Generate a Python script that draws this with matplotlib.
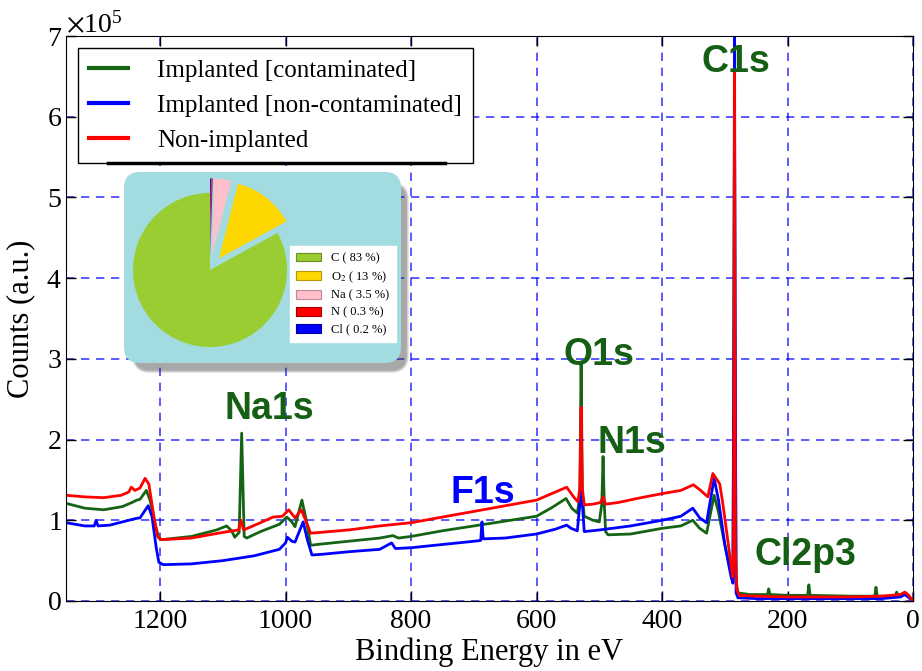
import matplotlib
matplotlib.use("Agg")
import matplotlib.pyplot as plt
from matplotlib.patches import FancyBboxPatch, Patch
from matplotlib.lines import Line2D
from matplotlib.ticker import ScalarFormatter
import numpy as np

plt.rcParams['font.family'] = 'serif'
plt.rcParams['font.serif'] = ['Liberation Serif', 'DejaVu Serif']
plt.rcParams['mathtext.fontset'] = 'stix'

SCALE = 1e5  # counts are listed in units of 1e5

# survey spectra, binding energy (eV) vs counts / 1e5
be_contam = [1350, 1320, 1290, 1260, 1245, 1237, 1232, 1222, 1216, 1208, 1202, 1198,
             1150, 1110, 1094, 1086, 1081, 1074, 1070, 1066, 1062, 1040, 1010, 998,
             990, 985, 974, 967, 960, 950, 900, 850, 829, 820, 800, 750, 700, 650,
             600, 575, 553, 544, 535, 531, 529, 527, 524, 510, 500, 496, 494, 492,
             490, 486, 450, 400, 370, 351, 340, 329, 317, 310, 300, 290, 287, 285.5,
             284.5, 283.5, 282, 279, 260, 232, 230, 228, 200, 168, 166, 164, 100,
             61, 59, 57, 28, 26, 24, 13, 0]
cts_contam = [1.21, 1.15, 1.13, 1.17, 1.22, 1.25, 1.26, 1.37, 1.25, 0.95, 0.78, 0.76,
              0.80, 0.88, 0.93, 0.87, 0.79, 0.85, 2.08, 0.80, 0.78, 0.86, 0.95, 1.04,
              0.98, 0.92, 1.25, 1.00, 0.69, 0.70, 0.74, 0.78, 0.81, 0.78, 0.80, 0.87,
              0.93, 0.99, 1.05, 1.16, 1.27, 1.15, 1.09, 1.30, 2.96, 1.30, 1.05, 1.00,
              0.98, 1.20, 1.79, 1.20, 0.86, 0.82, 0.83, 0.90, 0.93, 1.00, 0.90, 0.84,
              1.31, 1.10, 0.70, 0.35, 0.28, 3.00, 6.20, 3.00, 0.25, 0.10, 0.08, 0.08,
              0.15, 0.08, 0.07, 0.07, 0.20, 0.07, 0.06, 0.06, 0.17, 0.06, 0.06, 0.11,
              0.07, 0.10, 0.01]

be_clean = [1350, 1320, 1305, 1302, 1299, 1280, 1260, 1240, 1232, 1219, 1213, 1206,
            1202, 1195, 1150, 1100, 1050, 1010, 1000, 997, 990, 985, 972, 965, 958,
            940, 900, 850, 831, 825, 800, 750, 700, 689, 687, 685, 650, 600, 570,
            552, 545, 535, 531, 529, 527, 524, 500, 450, 400, 370, 351, 340, 329,
            317, 310, 300, 290, 287, 285.5, 284.5, 283.5, 282, 279, 250, 150, 50,
            20, 13, 8, 0]
cts_clean = [0.97, 0.93, 0.93, 1.00, 0.93, 0.94, 0.98, 1.02, 1.03, 1.18, 1.05, 0.65,
             0.48, 0.45, 0.46, 0.50, 0.56, 0.64, 0.72, 0.79, 0.74, 0.73, 0.98, 0.75,
             0.57, 0.58, 0.61, 0.64, 0.72, 0.65, 0.66, 0.70, 0.74, 0.75, 0.98, 0.77,
             0.78, 0.83, 0.89, 0.94, 0.90, 0.87, 1.20, 1.55, 1.20, 0.86, 0.88, 0.93,
             1.00, 1.05, 1.15, 1.03, 0.97, 1.52, 1.25, 0.70, 0.30, 0.22, 3.50, 7.10,
             3.50, 0.10, 0.04, 0.03, 0.03, 0.03, 0.05, 0.08, 0.05, 0.00]

be_ref = [1350, 1320, 1290, 1262, 1250, 1246, 1240, 1232, 1224, 1218, 1210, 1204,
          1198, 1150, 1100, 1075, 1071, 1067, 1040, 1020, 1005, 995, 985, 975, 968,
          960, 900, 850, 800, 750, 700, 650, 600, 570, 552, 540, 534, 531, 529, 527,
          524, 510, 498, 494, 490, 470, 440, 400, 370, 350, 340, 327, 319, 308, 303,
          290, 287.5, 286, 285, 284.5, 284, 283, 281, 277, 250, 200, 150, 100, 50,
          20, 13, 8, 0]
cts_ref = [1.31, 1.29, 1.28, 1.31, 1.35, 1.41, 1.37, 1.40, 1.52, 1.45, 1.05, 0.80,
           0.76, 0.78, 0.85, 0.88, 1.00, 0.88, 0.97, 1.04, 1.05, 1.13, 1.03, 1.13,
           1.00, 0.84, 0.88, 0.93, 0.97, 1.04, 1.11, 1.18, 1.25, 1.35, 1.41, 1.28,
           1.23, 1.40, 2.40, 1.40, 1.19, 1.20, 1.22, 1.29, 1.20, 1.22, 1.27, 1.33,
           1.37, 1.44, 1.38, 1.29, 1.58, 1.45, 1.20, 0.45, 0.30, 0.60, 3.50, 6.55,
           4.00, 0.60, 0.15, 0.07, 0.06, 0.05, 0.05, 0.05, 0.06, 0.08, 0.11, 0.08,
           0.00]

# peak labels: text, energy, counts / 1e5 (baseline), colour
peak_names = ['C1s', 'O1s', 'N1s', 'Na1s', 'F1s', 'Cl2p3']
peak_be = [282, 501, 448, 1026, 685, 172]
peak_y = [6.56, 2.92, 1.83, 2.26, 1.21, 0.45]
peak_col = ['#145f14', '#145f14', '#145f14', '#145f14', 'blue', '#145f14']

# surface composition for the inset
elements = ['C ( 83 %)', 'O$_2$ ( 13 %)', 'Na ( 3.5 %)', 'N ( 0.3 %)', 'Cl ( 0.2 %)']
fractions = [83, 13, 3.5, 0.3, 0.2]
pie_cols = ['#9acd32', '#ffd700', '#ffc0cb', '#ff0000', '#0000ff']
pie_edges = ['#6b8e23', '#b8960c', '#c08890', '#a00000', '#0000a0']

W, H = 922, 671
fig = plt.figure(figsize=(W / 100, H / 100), dpi=100)
ax = fig.add_axes([66 / W, 1 - 601 / H, 847 / W, 565 / H])

ax.plot(be_contam, np.array(cts_contam) * SCALE, color='#146414', lw=2,
        label='Implanted [contaminated]')
ax.plot(be_clean, np.array(cts_clean) * SCALE, color='#0000ff', lw=2,
        label='Implanted [non-contaminated]')
ax.plot(be_ref, np.array(cts_ref) * SCALE, color='#ff0000', lw=2,
        label='Non-implanted')

for name, x, y, c in zip(peak_names, peak_be, peak_y, peak_col):
    ax.text(x, y * SCALE, name, ha='center', va='baseline', color=c,
            fontsize=27, fontweight='bold', family='Liberation Sans')

ax.set_xlim(1350, 0)
ax.set_ylim(0, 7 * SCALE)
ax.set_xticks(range(1200, -1, -200))
ax.set_yticks(np.arange(0, 8) * SCALE)
fmt = ScalarFormatter(useMathText=True)
fmt.set_powerlimits((0, 0))
ax.yaxis.set_major_formatter(fmt)
ax.yaxis.get_offset_text().set_fontsize(20)

ax.grid(True, color='blue', alpha=0.75, lw=1.2, linestyle=(0, (5, 4)))
ax.tick_params(direction='in', top=True, right=True, length=7, width=1,
               labelsize=20)
ax.tick_params(axis='x', pad=6)
ax.tick_params(axis='y', pad=3)
ax.set_xlabel('Binding Energy in eV', fontsize=22, labelpad=2)
ax.set_ylabel('Counts (a.u.)', fontsize=22, labelpad=8)

leg = ax.legend(loc='upper left', bbox_to_anchor=(12 / 847, (601 - 48) / 565),
                borderaxespad=0, fontsize=18, handlelength=1.55,
                handletextpad=1.15, borderpad=0.45, labelspacing=0.5,
                fancybox=False, framealpha=1)
leg.get_frame().set_edgecolor('black')
leg.get_frame().set_linewidth(1)
for h in leg.legend_handles:
    h.set_linewidth(3)

# dark rule under the legend box
fig.add_artist(Line2D([108 / W, 445 / W], [1 - 163 / H, 1 - 163 / H],
                      color='black', lw=2.5, transform=fig.transFigure))

# rounded inset panel with a soft drop shadow
bx0, by0, bx1, by1 = 124, 172, 401, 363
bw, bh = bx1 - bx0, by1 - by0
ax_box = fig.add_axes([bx0 / W, 1 - by1 / H, bw / W, bh / H], zorder=3)
ax_box.set_xlim(0, bw)
ax_box.set_ylim(0, bh)
ax_box.axis('off')
for i in range(8):
    ax_box.add_patch(FancyBboxPatch(
        (8 + i * 0.4, -10 + i * 0.4), bw - i * 0.8, bh - i * 0.8,
        boxstyle='round,pad=0,rounding_size=%g' % (18 - i * 0.4),
        facecolor='#404040', edgecolor='none', alpha=0.07, clip_on=False))
ax_box.add_patch(FancyBboxPatch((0, 0), bw, bh,
                                boxstyle='round,pad=0,rounding_size=16',
                                facecolor='#a2dce0', edgecolor='none',
                                clip_on=False))

pr = 77 * 1.25
ax_pie = fig.add_axes([(210 - pr) / W, 1 - (270 + pr) / H, 2 * pr / W, 2 * pr / H],
                      zorder=4)
ax_pie.pie(fractions, colors=pie_cols, startangle=90,
           explode=[0, 0.19, 0.19, 0.19, 0.19], wedgeprops=dict(linewidth=0))
handles = [Patch(facecolor=f, edgecolor=e, lw=0.8)
           for f, e in zip(pie_cols, pie_edges)]
pleg = ax_pie.legend(handles, elements, loc='upper left',
                     bbox_to_anchor=(290 / W, 1 - 246 / H),
                     bbox_transform=fig.transFigure, borderaxespad=0,
                     fontsize=9, handlelength=2.0, handleheight=0.7,
                     handletextpad=0.8, labelspacing=0.4, borderpad=0.5,
                     fancybox=False, framealpha=1)
pleg.get_frame().set_edgecolor('white')

fig.savefig('out.png', dpi=100)
